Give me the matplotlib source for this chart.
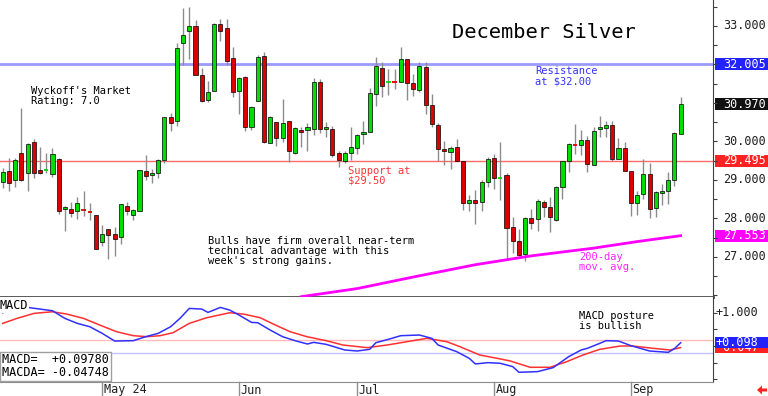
import numpy as np
import matplotlib
matplotlib.use('Agg')
import matplotlib.pyplot as plt
from matplotlib.patches import Rectangle, Polygon
from matplotlib.transforms import blended_transform_factory

plt.rcParams['font.family'] = ['DejaVu Sans Mono']

# daily OHLC, December silver (Apr - mid Sep)
opens = [28.95, 29.23, 29.00, 29.70, 29.18, 29.99, 29.26, 29.25, 29.16, 29.55,
         28.25, 28.25, 28.19, 28.25, 28.17, 28.09, 27.39, 27.73, 27.60, 27.52,
         28.33, 28.09, 28.19, 29.23, 29.13, 29.18, 29.52, 30.64, 30.53, 32.56,
         32.87, 33.00, 31.73, 31.08, 31.31, 33.05, 32.95, 32.17, 31.31, 31.68,
         30.38, 31.05, 32.22, 29.96, 30.51, 30.09, 30.53, 29.70, 30.30, 30.30,
         30.32, 31.55, 30.32, 30.32, 29.70, 29.49, 29.70, 29.83, 30.20, 30.25,
         31.23, 31.91, 31.54, 31.55, 31.55, 32.14, 31.52, 31.34, 31.93, 30.95,
         30.43, 29.81, 29.73, 29.86, 29.49, 28.40, 28.48, 28.43, 28.95, 29.57,
         29.04, 29.13, 27.78, 27.42, 27.08, 28.01, 27.99, 28.43, 28.30, 27.96,
         28.82, 29.49, 29.91, 29.91, 30.04, 29.39, 30.32, 30.35, 30.43, 29.55,
         29.83, 29.23, 28.40, 28.64, 29.16, 28.27, 28.66, 28.71, 29.00, 30.20]
highs = [29.31, 29.57, 29.57, 30.87, 29.96, 30.07, 29.86, 29.70, 29.83, 29.57,
         28.33, 28.43, 28.56, 28.71, 28.40, 28.09, 27.83, 27.73, 27.78, 28.38,
         28.43, 28.25, 29.26, 29.65, 29.29, 29.55, 30.64, 30.74, 32.56, 33.47,
         33.49, 33.16, 31.91, 31.57, 33.08, 33.18, 33.18, 32.45, 31.68, 31.70,
         30.92, 32.25, 32.32, 30.66, 30.51, 31.10, 30.53, 30.38, 30.38, 30.48,
         31.65, 31.62, 30.51, 30.40, 29.75, 29.75, 30.38, 30.20, 30.53, 31.39,
         32.19, 32.06, 31.88, 31.88, 32.45, 32.14, 31.75, 32.06, 32.06, 31.23,
         30.48, 30.01, 29.88, 30.07, 29.49, 28.61, 28.74, 29.00, 29.60, 29.68,
         29.99, 29.18, 28.04, 27.73, 28.04, 28.25, 28.51, 28.48, 28.56, 28.84,
         29.49, 29.96, 30.45, 30.30, 30.14, 30.38, 30.66, 30.53, 30.53, 30.09,
         29.99, 29.23, 28.71, 29.55, 29.44, 28.71, 28.90, 29.21, 30.25, 31.16]
lows = [28.79, 28.71, 28.82, 28.98, 28.71, 29.05, 29.16, 29.18, 29.08, 28.12,
        27.68, 28.04, 27.99, 28.07, 27.96, 27.21, 27.29, 26.95, 27.03, 27.34,
        28.09, 27.96, 28.19, 29.00, 28.92, 29.05, 29.44, 30.27, 30.40, 31.99,
        32.14, 31.73, 31.03, 31.03, 31.31, 32.61, 31.99, 31.16, 30.71, 30.27,
        30.30, 31.05, 29.96, 29.96, 29.88, 29.99, 29.47, 29.68, 29.86, 29.75,
        30.17, 30.22, 30.12, 29.60, 29.34, 29.44, 29.52, 29.68, 29.94, 30.25,
        30.92, 31.16, 31.21, 31.36, 31.55, 31.08, 31.18, 31.29, 30.71, 30.38,
        29.49, 29.39, 29.29, 29.49, 28.22, 28.19, 27.86, 28.19, 28.82, 28.77,
        28.48, 26.95, 27.10, 27.03, 26.90, 27.73, 27.68, 28.04, 27.65, 27.94,
        28.51, 29.21, 29.68, 29.65, 29.21, 29.39, 30.12, 30.12, 29.49, 29.55,
        29.23, 28.07, 28.09, 28.51, 28.01, 28.04, 28.35, 28.38, 28.84, 30.20]
closes = [29.21, 28.92, 29.52, 29.00, 29.94, 29.18, 29.18, 29.27, 29.68, 28.19,
          28.30, 28.14, 28.40, 28.22, 28.16, 27.21, 27.60, 27.57, 27.47, 28.38,
          28.19, 28.22, 29.26, 29.10, 29.18, 29.52, 30.64, 30.48, 32.43, 32.77,
          33.00, 31.73, 31.05, 31.29, 33.05, 32.87, 32.09, 31.29, 31.65, 30.38,
          30.90, 32.19, 29.99, 30.64, 30.09, 30.48, 29.75, 30.35, 30.25, 30.38,
          31.55, 30.32, 30.38, 29.65, 29.52, 29.70, 29.86, 30.17, 30.25, 31.26,
          31.96, 31.44, 31.55, 31.54, 32.14, 31.52, 31.36, 31.96, 30.95, 30.45,
          29.81, 29.75, 29.83, 29.49, 28.40, 28.48, 28.40, 28.95, 29.55, 29.05,
          29.06, 27.75, 27.42, 27.05, 28.01, 27.88, 28.45, 28.30, 28.04, 28.82,
          29.49, 29.94, 29.90, 30.04, 29.42, 30.27, 30.38, 30.43, 29.55, 29.83,
          29.23, 28.40, 28.61, 29.16, 28.25, 28.69, 28.71, 29.00, 30.22, 30.97]

# 200-day moving average, read at a few bars
ma_idx = [48, 57, 66, 76, 85, 95, 102, 109]
ma_vals = [25.97, 26.18, 26.48, 26.80, 27.03, 27.23, 27.40, 27.553]

# MACD (blue) and its average (red)
macd_idx = [0, 1, 4, 8, 10, 12, 14, 16, 18, 21, 23, 25, 27, 28.5, 30, 32, 33, 35,
            36.5, 38, 40, 41, 43, 45, 47, 49, 50, 52, 55, 57, 59, 60, 62, 64, 67,
            69, 70, 73, 75, 76, 78, 80, 82, 83, 86, 88.5, 91, 93, 94, 96, 97, 99,
            101, 102.5, 104, 107, 108, 109]
macd_vals = [1.00, 1.06, 1.16, 1.06, 0.83, 0.68, 0.58, 0.38, 0.15, 0.16, 0.28, 0.38,
             0.58, 0.83, 1.13, 1.11, 1.01, 1.16, 1.08, 0.93, 0.71, 0.70, 0.48, 0.28,
             0.16, 0.06, 0.11, 0.05, -0.12, -0.15, -0.10, 0.10, 0.20, 0.31, 0.33,
             0.23, 0.03, -0.17, -0.37, -0.54, -0.50, -0.52, -0.62, -0.79, -0.77,
             -0.65, -0.32, -0.12, -0.07, 0.08, 0.16, 0.15, 0.01, -0.07, -0.15,
             -0.19, -0.08, 0.0978]
macda_idx = [0, 2.3, 5, 8, 10.3, 13, 15.6, 18.3, 21, 23.2, 25.3, 27.4, 30, 32.8, 36.5,
             38.7, 41.4, 43.5, 46.2, 48.9, 52, 54.7, 58.6, 61.8, 65, 68.2, 71.4,
             73.5, 76.7, 79.5, 81.6, 84.8, 88, 90.7, 93.3, 96, 99.3, 101.3, 104.6,
             107.3, 109]
macda_vals = [0.68, 0.83, 0.98, 1.03, 0.96, 0.83, 0.63, 0.43, 0.31, 0.28, 0.31, 0.40,
              0.68, 0.85, 1.00, 0.96, 0.85, 0.66, 0.43, 0.28, 0.16, 0.03, -0.05, 0.03,
              0.13, 0.23, 0.13, -0.02, -0.27, -0.37, -0.45, -0.64, -0.64, -0.47,
              -0.27, -0.10, 0.00, 0.00, -0.07, -0.12, -0.04748]

month_idx = [16, 38, 57, 79, 101]
month_labels = ["May 24", "Jun", "Jul", "Aug", "Sep"]

resistance = 32.005
support = 29.495
ma_last = 27.553
macd_last = 0.09780
macda_last = -0.04748
price_labels = [27, 28, 29, 30, 33]
macd_upper_ref = 0.17
macd_lower_ref = -0.22

GREEN = '#00dd00'
RED = '#dd0000'
W, H = 768, 396


def px(x, y):
    return x / W, 1 - y / H


fig = plt.figure(figsize=(W / 100, H / 100), dpi=100)
ax = fig.add_axes([0, 1 - 297 / H, 713 / W, 297 / H])
ax2 = fig.add_axes([0, 1 - 382 / H, 713 / W, 85 / H])

for a in (ax, ax2):
    a.set_xlim(-0.434, 114.2)
    a.set_xticks([])
    a.spines['left'].set_visible(False)
    a.spines['top'].set_visible(False)
    a.spines['right'].set_color('#404040')
    a.yaxis.tick_right()
    a.tick_params(axis='y', direction='out', length=3, color='#404040',
                  labelright=False)
ax.set_ylim(25.961, 33.675)
ax2.set_ylim(-1.082, 1.473)
ax.spines['bottom'].set_color('#4a4a4a')
ax.spines['bottom'].set_linewidth(2)
ax2.spines['bottom'].set_color('#8a8a8a')
ax.set_yticks(np.arange(26.0, 33.6, 0.5))
ax2.set_yticks(np.arange(-1.0, 1.3, 0.5))

# candles
for i, (o, h, l, c) in enumerate(zip(opens, highs, lows, closes)):
    col = GREEN if c >= o else RED
    ax.vlines(i, l, h, color='#8c8c8c', lw=1, zorder=2)
    if abs(c - o) < 0.04:
        ax.hlines(c, i - 0.35, i + 0.35, color=col, lw=1.3, zorder=3)
    else:
        ax.add_patch(Rectangle((i - 0.33, min(o, c)), 0.66, abs(c - o),
                               facecolor=col, edgecolor='black', lw=0.5, zorder=3))

ax.axhline(resistance, color='#9a9aff', lw=2, zorder=1)
ax.axhline(support, color='#ff6a6a', lw=1, zorder=1)
ax.plot(ma_idx, ma_vals, color='#ff00ff', lw=2, zorder=4)

# right-hand price scale
tr = blended_transform_factory(ax.transAxes, ax.transData)
for v in price_labels:
    ax.text(1.014, v, f"{v:.3f}", transform=tr, va='center', ha='left',
            fontsize=8.5, color='#202020', clip_on=False)
for val, col in [(resistance, '#2222ff'), (closes[-1], '#111111'),
                 (support, '#ff2222'), (ma_last, '#ff00ff')]:
    ax.add_patch(Rectangle((1.003, val - 0.16), 0.075, 0.32, transform=tr,
                           facecolor=col, edgecolor='none', clip_on=False))
    ax.text(1.014, val, f"{val:.3f}", transform=tr, va='center', ha='left',
            fontsize=8.5, color='white', clip_on=False)

# MACD panel
ax2.axhline(macd_upper_ref, color='#ffbcbc', lw=1)
ax2.axhline(macd_lower_ref, color='#c4c4ff', lw=1)
ax2.plot(macda_idx, macda_vals, color='#ff3030', lw=1.1)
ax2.plot(macd_idx, macd_vals, color='#3030ff', lw=1.1)
tr2 = blended_transform_factory(ax2.transAxes, ax2.transData)
ax2.text(1.004, 1.0, "+1.000", transform=tr2, va='center', ha='left',
         fontsize=8.5, color='#202020', clip_on=False)
# red box sits under the blue one, as in the original
z = 5
for val, col in [(macda_last, '#ff2222'), (macd_last, '#2222ff')]:
    ax2.add_patch(Rectangle((1.003, val - 0.165), 0.075, 0.33, transform=tr2,
                            facecolor=col, edgecolor='none', clip_on=False,
                            zorder=z))
    ax2.text(1.004, val, f"{val:+.3f}", transform=tr2, va='center', ha='left',
             fontsize=8.5, color='white', clip_on=False, zorder=z + 1)
    z += 2
ax2.text(0.0, 0.975, "MACD", transform=ax2.transAxes, va='top', ha='left',
         fontsize=8.5, bbox=dict(facecolor='white', edgecolor='none', pad=0.5))
ax2.text(0.003, 0.03, f"MACD=  {macd_last:+.5f}\nMACDA= {macda_last:+.5f}",
         transform=ax2.transAxes, va='bottom', ha='left', fontsize=8.5,
         linespacing=1.0,
         bbox=dict(facecolor='white', edgecolor='#a0a0a0',
                   boxstyle='square,pad=0.15'))

# month ticks in the date strip
trx = blended_transform_factory(ax2.transData, ax2.transAxes)
for idx, lab in zip(month_idx, month_labels):
    ax2.plot([idx, idx], [0, -14 / 85], transform=trx, color='#909090', lw=1,
             clip_on=False)
    ax2.text(idx + 0.25, -8 / 85, lab, transform=trx, va='center', ha='left',
             fontsize=8.5, color='#202020', clip_on=False)

# annotations
fig.text(*px(452, 23), "December Silver", fontsize=14.7, va='top')
fig.text(*px(31, 86), "Wyckoff's Market\nRating: 7.0", fontsize=7.5,
         va='top', linespacing=1.0)
fig.text(*px(348, 166), "Support at\n$29.50", fontsize=7.5, va='top',
         linespacing=1.0, color='#ff3333')
fig.text(*px(535, 66), "Resistance\nat $32.00", fontsize=7.5, va='top',
         linespacing=1.0, color='#3333ff')
fig.text(*px(208, 236), "Bulls have firm overall near-term\n"
         "technical advantage with this\nweek's strong gains.",
         fontsize=7.5, va='top', linespacing=1.0)
fig.text(*px(579, 252), "200-day\nmov. avg.", fontsize=7.5, va='top',
         linespacing=1.0, color='#ff22ff')
fig.text(*px(579, 311), "MACD posture\nis bullish", fontsize=7.5, va='top',
         linespacing=1.0)

arrow = [(757, 390), (762, 385.5), (762, 388.5), (767, 388.5), (767, 391.5),
         (762, 391.5), (762, 394.5)]
fig.add_artist(Polygon([px(x, y) for x, y in arrow], closed=True,
                       facecolor='#ff2020', edgecolor='none',
                       transform=fig.transFigure))

fig.savefig('out.png', dpi=100)
